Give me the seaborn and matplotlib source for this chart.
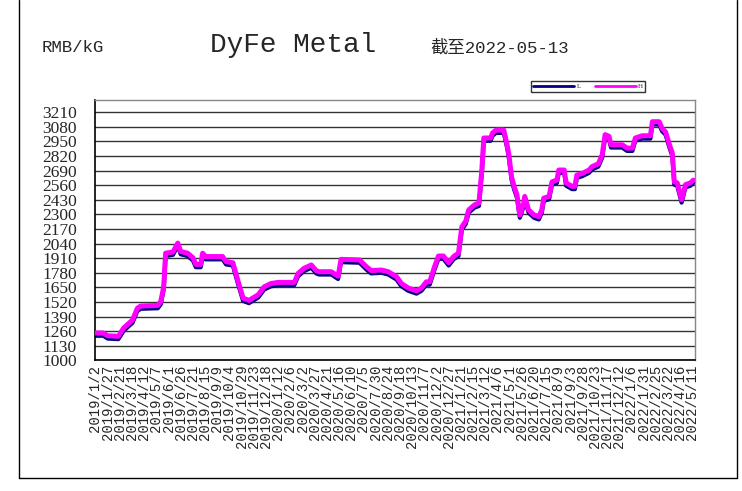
import pandas as pd
import matplotlib.pyplot as plt
from matplotlib.lines import Line2D
import seaborn as sns

## DyFe metal price chart, L / H series

dates = [
    "2019-01-02", "2019-01-18", "2019-01-27", "2019-02-18", "2019-03-01", "2019-03-19", "2019-03-29", "2019-04-05", "2019-05-10", "2019-05-16",
    "2019-05-22", "2019-05-26", "2019-06-10", "2019-06-20", "2019-06-26", "2019-07-10", "2019-07-21", "2019-07-27", "2019-08-06", "2019-08-10",
    "2019-08-16", "2019-09-20", "2019-09-27", "2019-10-11", "2019-10-21", "2019-11-01", "2019-11-13", "2019-12-02", "2019-12-14", "2019-12-28",
    "2020-01-12", "2020-02-14", "2020-02-22", "2020-03-05", "2020-03-20", "2020-03-30", "2020-04-05", "2020-04-30", "2020-05-14", "2020-05-20",
    "2020-06-27", "2020-07-11", "2020-07-21", "2020-08-11", "2020-08-25", "2020-09-11", "2020-09-21", "2020-10-05", "2020-10-22", "2020-11-01",
    "2020-11-11", "2020-11-18", "2020-11-28", "2020-12-06", "2020-12-16", "2020-12-27", "2021-01-06", "2021-01-16", "2021-01-23", "2021-01-31",
    "2021-02-06", "2021-02-18", "2021-02-27", "2021-03-05", "2021-03-09", "2021-03-23", "2021-03-27", "2021-04-03", "2021-04-19", "2021-04-25",
    "2021-04-29", "2021-05-05", "2021-05-10", "2021-05-16", "2021-05-22", "2021-05-30", "2021-06-01", "2021-06-09", "2021-06-20", "2021-06-30",
    "2021-07-06", "2021-07-10", "2021-07-21", "2021-07-27", "2021-08-06", "2021-08-10", "2021-08-21", "2021-08-25", "2021-09-06", "2021-09-12",
    "2021-09-16", "2021-09-27", "2021-10-11", "2021-10-17", "2021-10-30", "2021-11-07", "2021-11-13", "2021-11-21", "2021-11-25", "2021-12-18",
    "2021-12-28", "2022-01-08", "2022-01-14", "2022-01-28", "2022-02-14", "2022-02-18", "2022-03-04", "2022-03-10", "2022-03-17", "2022-03-25",
    "2022-03-31", "2022-04-04", "2022-04-10", "2022-04-19", "2022-04-27", "2022-05-07", "2022-05-13",
]

price_h = [
    1245, 1245, 1220, 1215, 1290, 1360, 1465, 1485, 1490, 1525,
    1655, 1955, 1965, 2045, 1970, 1955, 1915, 1855, 1855, 1955,
    1925, 1925, 1880, 1870, 1715, 1555, 1535, 1585, 1655, 1685,
    1695, 1695, 1775, 1820, 1850, 1800, 1790, 1790, 1750, 1900,
    1895, 1835, 1800, 1805, 1790, 1745, 1685, 1645, 1620, 1645,
    1700, 1700, 1835, 1930, 1930, 1870, 1925, 1955, 2190, 2240,
    2340, 2385, 2400, 2695, 2980, 2980, 3025, 3050, 3050, 2935,
    2845, 2635, 2550, 2475, 2295, 2400, 2460, 2340, 2295, 2280,
    2340, 2445, 2460, 2590, 2605, 2695, 2695, 2580, 2550, 2550,
    2650, 2665, 2695, 2725, 2750, 2830, 3010, 2995, 2920, 2920,
    2890, 2890, 2980, 3000, 3000, 3125, 3125, 3065, 3035, 2920,
    2845, 2590, 2580, 2430, 2565, 2580, 2605,
]

price_l = [
    1220, 1220, 1195, 1190, 1265, 1335, 1440, 1460, 1465, 1500,
    1630, 1930, 1940, 2020, 1945, 1930, 1890, 1830, 1830, 1930,
    1900, 1900, 1855, 1845, 1690, 1530, 1510, 1560, 1630, 1660,
    1670, 1670, 1750, 1795, 1825, 1775, 1765, 1765, 1725, 1875,
    1870, 1810, 1775, 1780, 1765, 1720, 1660, 1620, 1595, 1620,
    1675, 1675, 1810, 1905, 1905, 1845, 1900, 1930, 2165, 2215,
    2315, 2360, 2375, 2670, 2955, 2955, 3000, 3025, 3025, 2910,
    2820, 2610, 2525, 2450, 2270, 2375, 2435, 2315, 2270, 2255,
    2315, 2420, 2435, 2565, 2580, 2670, 2670, 2555, 2525, 2525,
    2625, 2640, 2670, 2700, 2725, 2805, 2985, 2970, 2895, 2895,
    2865, 2865, 2955, 2975, 2975, 3100, 3100, 3040, 3010, 2895,
    2820, 2565, 2555, 2405, 2540, 2555, 2580,
]

y_ticks = list(range(1000, 3211, 130))

# Setup data
df = pd.DataFrame({"date": pd.to_datetime(dates), "L": price_l, "H": price_h})
df_long = df.melt(id_vars="date", var_name="series", value_name="price")

sns.set_style("white")
plt.rcParams['font.family'] = ['Liberation Serif', 'Noto Sans CJK SC']

fig = plt.figure(figsize=(7.42, 4.91), dpi=100)
ax = fig.add_axes([0.128, 0.2658, 0.809, 0.5305])

# grid lines first, lines on top
for yv in y_ticks:
    ax.axhline(yv, color='#333333', lw=1.0, zorder=0)

sns.lineplot(data=df_long[df_long.series == "L"], x="date", y="price", color='#000080',
             lw=3.0, ax=ax, legend=False, zorder=2)
sns.lineplot(data=df_long[df_long.series == "H"], x="date", y="price", color='#FF00FF',
             lw=3.6, ax=ax, legend=False, zorder=3)

ax.set_ylim(1000, 3318)
ax.set_yticks(y_ticks)
ax.set_yticklabels([str(v) for v in y_ticks], fontsize=12.5)
ax.tick_params(axis='y', length=0, pad=13)

x_ticks = pd.date_range("2019-01-02", "2022-05-11", freq="25D")
ax.set_xlim(pd.Timestamp("2019-01-01"), pd.Timestamp("2022-05-17"))
ax.set_xticks(x_ticks)
ax.set_xticklabels([f"{d.year}/{d.month}/{d.day}" for d in x_ticks], rotation=90,
                   fontsize=10, family=['Liberation Mono'])
ax.tick_params(axis='x', direction='in', length=5, width=0.8, color='black', pad=3)
ax.set_xlabel("")
ax.set_ylabel("")

for side in ['left', 'bottom']:
    ax.spines[side].set_color('black')
    ax.spines[side].set_linewidth(1.2)
for side in ['top', 'right']:
    ax.spines[side].set_color('#888888')
    ax.spines[side].set_linewidth(1.0)

# titles
fig.text(42 / 742, 1 - 47 / 491, "RMB/kG", fontsize=12.5, family=['Liberation Mono'], va='center')
fig.text(210 / 742, 1 - 45 / 491, "DyFe Metal", fontsize=20, family=['Liberation Mono'], va='center')
fig.text(430 / 742, 1 - 47 / 491, "截至2022-05-13", fontsize=12.5,
         family=['Liberation Mono', 'Noto Sans CJK SC'], va='center')

# legend
handles = [Line2D([], [], color='#000080', lw=2), Line2D([], [], color='#FF00FF', lw=2)]
leg = fig.legend(handles, ["L", "H"], loc='center', bbox_to_anchor=(588 / 742, 1 - 86.5 / 491),
                 ncol=2, fontsize=5, frameon=True, fancybox=False, handlelength=6,
                 columnspacing=2, borderpad=0.3, handletextpad=0.3)
leg.get_frame().set_edgecolor('black')
leg.get_frame().set_linewidth(1.0)

# outer frame
for xs, ys in [([19, 19], [0, 478]), ([737, 737], [0, 478]), ([19, 737], [478, 478])]:
    fig.add_artist(Line2D([x / 742 for x in xs], [1 - y / 491 for y in ys], color='black', lw=1.0))

fig.savefig("out.png", dpi=100)
